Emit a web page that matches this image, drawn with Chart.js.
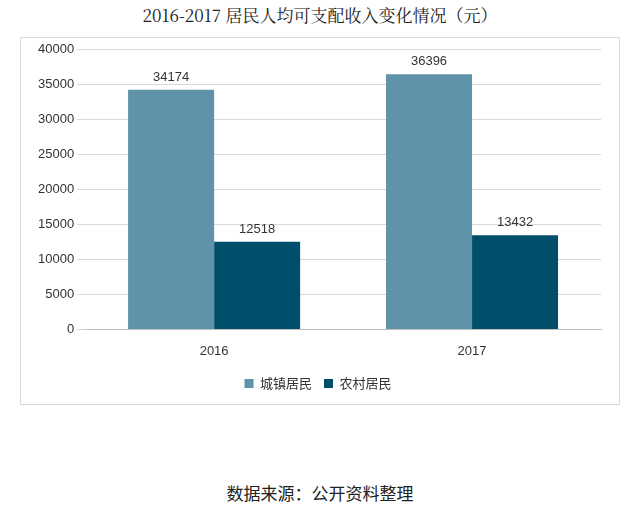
<!DOCTYPE html>
<html><head><meta charset="utf-8">
<script src="https://cdn.jsdelivr.net/npm/chart.js@4/dist/chart.umd.min.js"></script>
<style>
body{margin:0;background:#fff;width:640px;height:517px;position:relative;font-family:"Noto Sans CJK SC",sans-serif}
#title{position:absolute;top:2px;left:0;width:640px;text-align:center;font-family:"Noto Serif CJK SC","Noto Sans CJK SC",serif;font-size:17px;color:#222}
#frame{position:absolute;left:20px;top:37px;width:600px;height:368px;border:1px solid #d9d9d9;box-sizing:border-box}
#wrap{position:absolute;left:21px;top:38px;width:598px;height:366px}
#foot{position:absolute;top:480px;left:0;width:640px;text-align:center;font-size:17px;color:#222}
</style></head><body>
<div id="title">2016-2017 居民人均可支配收入变化情况（元）</div>
<div id="frame"></div>
<div id="wrap"><canvas id="c"></canvas></div>
<div id="foot">数据来源：公开资料整理</div>
<script>
const categories=["2016","2017"];
const urban=[34174,36396];
const rural=[12518,13432];
const seriesNames=["城镇居民","农村居民"];
const labelPlugin={id:'lbl',afterDatasetsDraw(ch){const c=ch.ctx;c.save();c.font='13px "Liberation Sans",Arial';c.fillStyle='#333';c.textAlign='center';c.textBaseline='bottom';
ch.data.datasets.forEach((d,i)=>{ch.getDatasetMeta(i).data.forEach((b,j)=>{c.fillText(d.data[j],b.x,b.y-6);});});c.restore();}};
new Chart(document.getElementById('c'),{type:'bar',
data:{labels:categories,datasets:[
{label:seriesNames[0],data:urban,backgroundColor:'#5f93a9'},
{label:seriesNames[1],data:rural,backgroundColor:'#004f6a'}]},
options:{responsive:true,maintainAspectRatio:false,animation:false,
layout:{padding:{top:11,right:18,left:14,bottom:4}},
datasets:{bar:{categoryPercentage:0.667,barPercentage:1}},
plugins:{legend:{position:'bottom',labels:{boxWidth:9,boxHeight:9,font:{size:13,family:'"Noto Sans CJK SC"'},color:'#333',padding:12}},tooltip:{enabled:false}},
scales:{x:{grid:{display:false},border:{color:'#bfbfbf'},ticks:{padding:6,color:'#333',font:{size:13,family:'"Liberation Sans"'}}},
y:{min:0,max:40000,ticks:{stepSize:5000,color:'#333',callback:v=>String(v),font:{size:13,family:'"Liberation Sans"'}},grid:{color:'#d9d9d9'},border:{display:false}}}}
,plugins:[labelPlugin]});
</script></body></html>
